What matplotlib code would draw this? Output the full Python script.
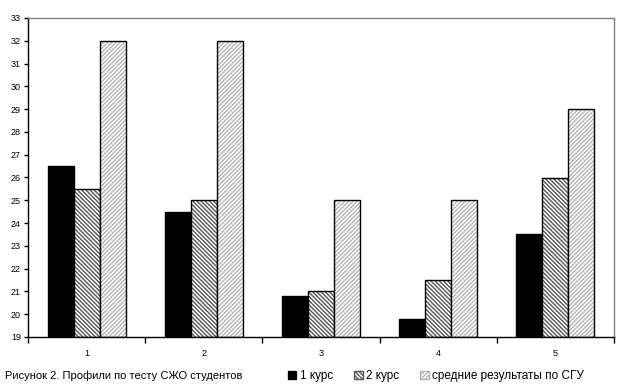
import matplotlib
matplotlib.use('Agg')
import matplotlib.pyplot as plt
import numpy as np
from matplotlib.patches import Patch

plt.rcParams['font.family'] = ['Liberation Sans', 'DejaVu Sans']
plt.rcParams['hatch.linewidth'] = 1.0

categories = ['1', '2', '3', '4', '5']
kurs1 = [26.5, 24.5, 20.8, 19.8, 23.5]
kurs2 = [25.5, 25.0, 21.0, 21.5, 26.0]
sgu = [32.0, 32.0, 25.0, 25.0, 29.0]
labels = ['1 курс', '2 курс', 'средние результаты по СГУ']

fig = plt.figure(figsize=(6.24, 3.88), dpi=100)
ax = fig.add_axes([28/624, 1 - 337/388, (614 - 28)/624, (337 - 18)/388])

x = np.arange(1, len(categories) + 1)
w = 0.222
base = 19
h2 = '\\' * 8
h3 = '/' * 8

# 1 курс - solid black
ax.bar(x - w, np.array(kurs1) - base, w, bottom=base, color='black',
       edgecolor='black', linewidth=1)
# 2 курс - dark hatch
ax.bar(x, np.array(kurs2) - base, w, bottom=base, color='white',
       edgecolor='#555555', hatch=h2, linewidth=0)
ax.bar(x, np.array(kurs2) - base, w, bottom=base, fill=False,
       edgecolor='black', linewidth=1)
# СГУ - light hatch
ax.bar(x + w, np.array(sgu) - base, w, bottom=base, color='white',
       edgecolor='#b4b4b4', hatch=h3, linewidth=0)
ax.bar(x + w, np.array(sgu) - base, w, bottom=base, fill=False,
       edgecolor='black', linewidth=1)

ax.set_xlim(0.5, 5.5)
ax.set_ylim(19, 33)
ax.set_yticks(range(19, 34))
ax.tick_params(axis='y', labelsize=6.5, length=3, width=1, pad=2, direction='out')
ax.set_xticks(x)
ax.set_xticklabels(categories)
ax.set_xticks(np.arange(0.5, 6.0, 1.0), minor=True)
ax.tick_params(axis='x', which='major', length=0, labelsize=6.5, pad=9)
ax.tick_params(axis='x', which='minor', length=4, width=1, direction='out')

for s in ['top', 'right']:
    ax.spines[s].set_color('#808080')
    ax.spines[s].set_linewidth(1)
for s in ['left', 'bottom']:
    ax.spines[s].set_color('black')
    ax.spines[s].set_linewidth(1)

fig.text(5/624, 1 - 376/388, 'Рисунок 2. Профили по тесту СЖО студентов',
         fontsize=8, va='center', ha='left')

handles = [Patch(facecolor='black', edgecolor='black'),
           Patch(facecolor='white', edgecolor='#555555', hatch=h2),
           Patch(facecolor='white', edgecolor='#b4b4b4', hatch=h3)]
fig.legend(handles, labels, loc='center left', bbox_to_anchor=(288/624, 1 - 376/388),
           ncol=3, frameon=False, fontsize=8.5, handlelength=0.7, handleheight=0.7,
           handletextpad=0.3, columnspacing=1.8, borderaxespad=0, borderpad=0)

fig.savefig('out.png', dpi=100)
